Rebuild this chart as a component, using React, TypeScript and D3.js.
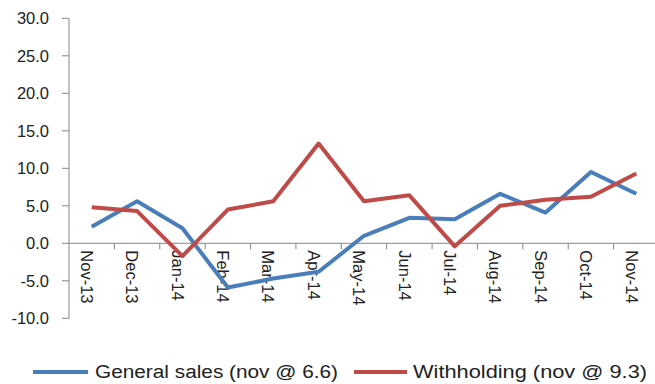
import React from "react";
import * as d3 from "d3";

const categories = ["Nov-13", "Dec-13", "Jan-14", "Feb-14", "Mar-14", "Apr-14", "May-14", "Jun-14", "Jul-14", "Aug-14", "Sep-14", "Oct-14", "Nov-14"];
const generalSales = [2.2, 5.6, 2.0, -5.9, -4.7, -3.8, 1.0, 3.4, 3.2, 6.6, 4.1, 9.5, 6.6];
const withholding = [4.8, 4.3, -1.7, 4.5, 5.6, 13.3, 5.6, 6.4, -0.4, 5.0, 5.8, 6.2, 9.3];
const yTicks = [30, 25, 20, 15, 10, 5, 0, -5, -10];
const seriesNames = ["General sales (nov @ 6.6)", "Withholding (nov @ 9.3)"];
const seriesColors = ["#4A7EBB", "#BE4B48"];

export default function App() {
  const W = 655, H = 384;
  const x = d3.scaleBand<string>().domain(categories).range([69, 659]);
  const y = d3.scaleLinear().domain([-10, 30]).range([318.3, 18.3]);
  const line = d3
    .line<number>()
    .x((_, i) => (x(categories[i]) as number) + x.bandwidth() / 2)
    .y((d) => y(d));
  const axisColor = "#868686";
  const font = "'Liberation Sans', Arial, sans-serif";
  const series = [generalSales, withholding];

  return (
    <svg width={W} height={H} style={{ position: "absolute", left: 0, top: 0, background: "#fff" }}>
      {/* Y axis */}
      <line x1={69} x2={69} y1={y(30)} y2={y(-10)} stroke={axisColor} strokeWidth={1} />
      {yTicks.map((t) => (
        <g key={t}>
          <line x1={62} x2={69} y1={y(t)} y2={y(t)} stroke={axisColor} />
          <text x={49} y={y(t)} dy="0.35em" textAnchor="end" fontFamily={font} fontSize={16.5} fill="#222">
            {t.toFixed(1)}
          </text>
        </g>
      ))}
      {/* X axis */}
      <line x1={69} x2={W} y1={y(0)} y2={y(0)} stroke={axisColor} />
      {categories.map((c) => (
        <line
          key={"t" + c}
          x1={(x(c) as number) + x.bandwidth()}
          x2={(x(c) as number) + x.bandwidth()}
          y1={y(0)}
          y2={y(0) + 6}
          stroke={axisColor}
        />
      ))}
      {categories.map((c) => {
        const cx = (x(c) as number) + x.bandwidth() / 2 - 5;
        const cy = y(0) + 7;
        return (
          <text
            key={c}
            transform={`translate(${cx},${cy}) rotate(90)`}
            dy="0.35em"
            textAnchor="start"
            fontFamily={font}
            fontSize={16.5}
            fill="#222"
          >
            {c}
          </text>
        );
      })}
      {/* Lines */}
      {series.map((s, i) => (
        <path
          key={i}
          d={line(s) || ""}
          fill="none"
          stroke={seriesColors[i]}
          strokeWidth={4}
          strokeLinejoin="round"
        />
      ))}
      {/* Legend */}
      <g fontFamily={font} fontSize={18} fill="#222">
        <line x1={33} x2={88} y1={372} y2={372} stroke={seriesColors[0]} strokeWidth={4} />
        <text x={95} y={372} dy="0.35em" textLength={243} lengthAdjust="spacingAndGlyphs">{seriesNames[0]}</text>
        <line x1={354} x2={407} y1={372} y2={372} stroke={seriesColors[1]} strokeWidth={4} />
        <text x={413} y={372} dy="0.35em" textLength={234} lengthAdjust="spacingAndGlyphs">{seriesNames[1]}</text>
      </g>
    </svg>
  );
}
